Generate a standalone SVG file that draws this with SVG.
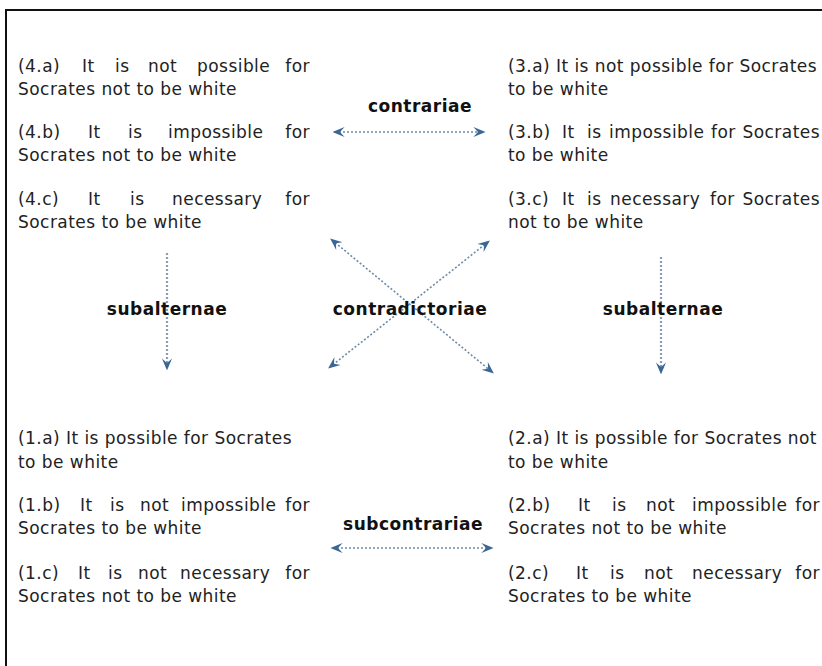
<svg xmlns="http://www.w3.org/2000/svg" width="822" height="666" viewBox="0 0 822 666">
  <style>
    .t { font-family: "DejaVu Sans", Verdana, sans-serif; font-size: 17px; letter-spacing: 0.45px; fill: #222; }
    .e { text-anchor: end; }
    .lbl { font-family: "DejaVu Sans", Verdana, sans-serif; font-size: 17px; font-weight: bold; letter-spacing: 0.5px; fill: #111; text-anchor: middle; }
    .link { fill: none; stroke: #6d8aa8; stroke-width: 1.6; stroke-dasharray: 2 2; marker-start: url(#head); marker-end: url(#head); }
    .down { fill: none; stroke: #8a9db3; stroke-width: 2.2; stroke-dasharray: 2 2; marker-end: url(#head); }
  </style>
  <defs>
    <marker id="head" viewBox="0 0 10 10" refX="8" refY="5" markerWidth="12" markerHeight="12" markerUnits="userSpaceOnUse" orient="auto-start-reverse">
      <path d="M0,0.8 L10,5 L0,9.2 L3.8,5 z" fill="#3a6795"/>
    </marker>
  </defs>

  <rect width="822" height="666" fill="#fff"/>
  <!-- frame: top and left edges only -->
  <path d="M6,666 V10 H822" fill="none" stroke="#111" stroke-width="2"/>

  <!-- necessity / impossibility statements -->
  <g id="n4">
    <text class="t" y="72"><tspan x="18">(4.a)</tspan><tspan x="82">It</tspan><tspan x="115">is</tspan><tspan x="148">not</tspan><tspan x="197">possible</tspan><tspan x="310" class="e">for</tspan></text>
    <text class="t" x="18" y="95">Socrates not to be white</text>
    <text class="t" y="138"><tspan x="18">(4.b)</tspan><tspan x="88">It</tspan><tspan x="128">is</tspan><tspan x="168">impossible</tspan><tspan x="310" class="e">for</tspan></text>
    <text class="t" x="18" y="161">Socrates not to be white</text>
    <text class="t" y="205"><tspan x="18">(4.c)</tspan><tspan x="88">It</tspan><tspan x="130">is</tspan><tspan x="172">necessary</tspan><tspan x="310" class="e">for</tspan></text>
    <text class="t" x="18" y="228">Socrates to be white</text>
  </g>

  <g id="n3">
    <text class="t" x="508" y="72">(3.a) It is not possible for Socrates</text>
    <text class="t" x="508" y="95">to be white</text>
    <text class="t" y="138"><tspan x="508">(3.b)</tspan><tspan x="562">It</tspan><tspan x="587">is</tspan><tspan x="609">impossible</tspan><tspan x="711">for</tspan><tspan x="820" class="e">Socrates</tspan></text>
    <text class="t" x="508" y="161">to be white</text>
    <text class="t" y="205"><tspan x="508">(3.c)</tspan><tspan x="562">It</tspan><tspan x="587">is</tspan><tspan x="610">necessary</tspan><tspan x="710">for</tspan><tspan x="820" class="e">Socrates</tspan></text>
    <text class="t" x="508" y="228">not to be white</text>
  </g>

  <!-- possibility statements -->
  <g id="n1">
    <text class="t" x="18" y="444">(1.a) It is possible for Socrates</text>
    <text class="t" x="18" y="468">to be white</text>
    <text class="t" y="511"><tspan x="18">(1.b)</tspan><tspan x="80">It</tspan><tspan x="110">is</tspan><tspan x="140">not</tspan><tspan x="181">impossible</tspan><tspan x="310" class="e">for</tspan></text>
    <text class="t" x="18" y="534">Socrates to be white</text>
    <text class="t" y="579"><tspan x="18">(1.c)</tspan><tspan x="78">It</tspan><tspan x="108">is</tspan><tspan x="138">not</tspan><tspan x="180">necessary</tspan><tspan x="310" class="e">for</tspan></text>
    <text class="t" x="18" y="602">Socrates not to be white</text>
  </g>

  <g id="n2">
    <text class="t" x="508" y="444">(2.a) It is possible for Socrates not</text>
    <text class="t" x="508" y="468">to be white</text>
    <text class="t" y="511"><tspan x="508">(2.b)</tspan><tspan x="578">It</tspan><tspan x="612">is</tspan><tspan x="646">not</tspan><tspan x="692">impossible</tspan><tspan x="820" class="e">for</tspan></text>
    <text class="t" x="508" y="534">Socrates not to be white</text>
    <text class="t" y="579"><tspan x="508">(2.c)</tspan><tspan x="576">It</tspan><tspan x="610">is</tspan><tspan x="644">not</tspan><tspan x="692">necessary</tspan><tspan x="820" class="e">for</tspan></text>
    <text class="t" x="508" y="602">Socrates to be white</text>
  </g>

  <!-- relations between the corners -->
  <g id="connectors">
    <line class="link" x1="335" y1="132" x2="483" y2="132"/>
    <text class="lbl" x="420" y="112">contrariae</text>

    <line class="link" x1="333" y1="548" x2="491" y2="548"/>
    <text class="lbl" x="413" y="530">subcontrariae</text>

    <line class="down" x1="167" y1="253" x2="167" y2="368"/>
    <text class="lbl" x="167" y="315">subalternae</text>

    <line class="down" x1="661" y1="257" x2="661" y2="372"/>
    <text class="lbl" x="663" y="315">subalternae</text>

    <line class="link" x1="332" y1="240" x2="492" y2="372"/>
    <line class="link" x1="488" y1="242" x2="330" y2="367"/>
    <text class="lbl" x="410" y="315">contradictoriae</text>
  </g>
</svg>
